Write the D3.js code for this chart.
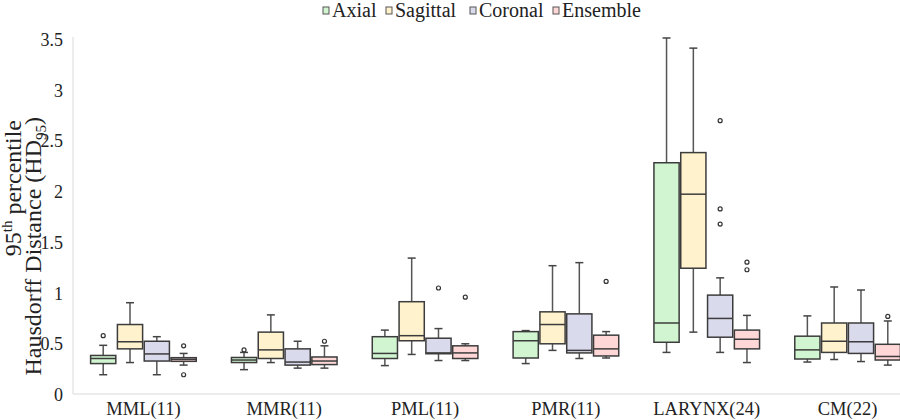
<!DOCTYPE html>
<html>
<head>
<meta charset="utf-8">
<script src="https://cdn.jsdelivr.net/npm/d3@7"></script>
</head>
<body style="margin:0">
<svg id="chart" width="900" height="420" font-family="Liberation Serif"></svg>
<script>
// ---- Data (min, q1, median, q3, max) per category ----
const categories = ["MML(11)", "MMR(11)", "PML(11)", "PMR(11)", "LARYNX(24)", "CM(22)"];
const seriesNames = ["Axial", "Sagittal", "Coronal", "Ensemble"];
const seriesColors = ["#d0f5d0", "#fff2cc", "#d9dbec", "#ffd7d7"];

const axialStats = [
  [0.19, 0.30, 0.35, 0.38, 0.48],
  [0.24, 0.31, 0.335, 0.36, 0.41],
  [0.28, 0.35, 0.40, 0.565, 0.63],
  [0.30, 0.355, 0.525, 0.615, 0.625],
  [0.41, 0.51, 0.70, 2.28, 3.51],
  [0.315, 0.345, 0.435, 0.57, 0.77]
];
const sagittalStats = [
  [0.31, 0.445, 0.515, 0.685, 0.90],
  [0.31, 0.35, 0.435, 0.61, 0.78],
  [0.39, 0.525, 0.575, 0.91, 1.34],
  [0.43, 0.495, 0.685, 0.81, 1.265],
  [0.61, 1.24, 1.97, 2.38, 3.41],
  [0.34, 0.41, 0.52, 0.70, 1.055]
];
const coronalStats = [
  [0.19, 0.325, 0.395, 0.52, 0.565],
  [0.255, 0.285, 0.315, 0.445, 0.52],
  [0.33, 0.397, 0.405, 0.55, 0.645],
  [0.35, 0.405, 0.43, 0.79, 1.295],
  [0.41, 0.56, 0.745, 0.975, 1.145],
  [0.32, 0.40, 0.515, 0.70, 1.025]
];
const ensembleStats = [
  [0.285, 0.322, 0.342, 0.358, 0.40],
  [0.255, 0.29, 0.325, 0.365, 0.475],
  [0.33, 0.35, 0.405, 0.475, 0.495],
  [0.355, 0.375, 0.445, 0.58, 0.615],
  [0.31, 0.445, 0.54, 0.63, 0.775],
  [0.285, 0.335, 0.37, 0.49, 0.72]
];
// outliers: [categoryIndex, value]
const axialOutliers = [[0, 0.575], [1, 0.435]];
const sagittalOutliers = [];
const coronalOutliers = [[2, 1.045], [4, 2.695], [4, 1.825], [4, 1.675]];
const ensembleOutliers = [[0, 0.475], [0, 0.19], [1, 0.52], [2, 0.955], [3, 1.11], [4, 1.30], [4, 1.225], [5, 0.765]];

const yTicks = [0, 0.5, 1, 1.5, 2, 2.5, 3, 3.5];
const yTickLabels = ["0", "0.5", "1", "1.5", "2", "2.5", "3", "3.5"];

const allStats = [axialStats, sagittalStats, coronalStats, ensembleStats];
const allOutliers = [axialOutliers, sagittalOutliers, coronalOutliers, ensembleOutliers];

const FONT = "Liberation Serif";

// ---- Scales ----
const svg = d3.select("#chart");
const plotLeft = 73, plotRight = 918, plotTop = 39, plotBottom = 394;

const x0 = d3.scaleBand().domain(categories).range([plotLeft, plotRight])
  .paddingInner(0.25).paddingOuter(0.125);
const x1 = d3.scaleBand().domain(seriesNames).range([0, x0.bandwidth()])
  .paddingInner(0.06).paddingOuter(0);
const y = d3.scaleLinear().domain([0, 3.5]).range([plotBottom, plotTop]);

// ---- Axes lines ----
svg.append("line").attr("x1", plotLeft).attr("x2", plotLeft)
  .attr("y1", y(3.5) - 2).attr("y2", plotBottom)
  .attr("stroke", "#d9d9d9").attr("stroke-width", 1);
svg.append("line").attr("x1", plotLeft).attr("x2", 900)
  .attr("y1", plotBottom).attr("y2", plotBottom)
  .attr("stroke", "#d9d9d9").attr("stroke-width", 1.2);

// y tick labels
const yAxis = d3.axisLeft(y).tickValues(yTicks)
  .tickFormat((d, i) => yTickLabels[i]).tickSize(0).tickPadding(10);
const yg = svg.append("g").attr("transform", `translate(${plotLeft},0)`).call(yAxis);
yg.select(".domain").remove();
yg.attr("font-family", FONT).attr("font-size", 18);
yg.selectAll("text").attr("font-family", FONT).style("font-family", FONT)
  .attr("fill", "#222").attr("dy", "0.36em");

// x labels
const xAxis = d3.axisBottom(x0).tickSize(0).tickPadding(8);
const xg = svg.append("g").attr("transform", `translate(0,${plotBottom})`).call(xAxis);
xg.select(".domain").remove();
xg.attr("font-family", FONT).attr("font-size", 18.5);
xg.selectAll("text").attr("font-family", FONT).style("font-family", FONT).attr("fill", "#222");

// ---- Boxes ----
const capW = 8;
seriesNames.forEach((s, si) => {
  const g = svg.append("g");
  const stats = allStats[si];
  categories.forEach((c, ci) => {
    const [mn, q1, md, q3, mx] = stats[ci];
    const bx = x0(c) + x1(s);
    const bw = x1.bandwidth();
    const cx = bx + bw / 2;
    g.append("line").attr("x1", cx).attr("x2", cx).attr("y1", y(mx)).attr("y2", y(q3))
      .attr("stroke", "#555").attr("stroke-width", 1.5);
    g.append("line").attr("x1", cx).attr("x2", cx).attr("y1", y(q1)).attr("y2", y(mn))
      .attr("stroke", "#555").attr("stroke-width", 1.5);
    g.append("line").attr("x1", cx - capW / 2).attr("x2", cx + capW / 2).attr("y1", y(mx)).attr("y2", y(mx))
      .attr("stroke", "#444").attr("stroke-width", 1.5);
    g.append("line").attr("x1", cx - capW / 2).attr("x2", cx + capW / 2).attr("y1", y(mn)).attr("y2", y(mn))
      .attr("stroke", "#444").attr("stroke-width", 1.5);
    g.append("rect").attr("x", bx).attr("y", y(q3)).attr("width", bw)
      .attr("height", Math.max(0.5, y(q1) - y(q3)))
      .attr("fill", seriesColors[si]).attr("stroke", "#3c3c3c").attr("stroke-width", 1.5);
    g.append("line").attr("x1", bx).attr("x2", bx + bw).attr("y1", y(md)).attr("y2", y(md))
      .attr("stroke", "#3c3c3c").attr("stroke-width", 1.5);
  });
  allOutliers[si].forEach(([ci, v]) => {
    const cx = x0(categories[ci]) + x1(s) + x1.bandwidth() / 2;
    g.append("circle").attr("cx", cx).attr("cy", y(v)).attr("r", 2)
      .attr("fill", "#fff").attr("stroke", "#333").attr("stroke-width", 1.2);
  });
});

// ---- Y axis title (two lines, rotated) ----
const t1 = svg.append("text")
  .attr("transform", "translate(21,120) rotate(-90)")
  .attr("text-anchor", "end").attr("font-family", FONT).style("font-family", FONT)
  .attr("font-size", 24).attr("fill", "#222");
t1.append("tspan").text("95");
t1.append("tspan").text("th").attr("font-size", 15).attr("dy", -9);
t1.append("tspan").text(" percentile").attr("dy", 9);

const t2 = svg.append("text")
  .attr("transform", "translate(41,117) rotate(-90)")
  .attr("text-anchor", "end").attr("font-family", FONT).style("font-family", FONT)
  .attr("font-size", 24).attr("fill", "#222");
t2.append("tspan").text("Hausdorff Distance (HD");
t2.append("tspan").text("95").attr("font-size", 15).attr("dy", 5);
t2.append("tspan").text(")").attr("dy", -5);

// ---- Legend ----
const legendX = [323, 386, 470, 553];
const legend = svg.append("g");
seriesNames.forEach((s, i) => {
  legend.append("rect").attr("x", legendX[i]).attr("y", 7).attr("width", 6).attr("height", 7)
    .attr("fill", seriesColors[i]).attr("stroke", "#555").attr("stroke-width", 1);
  legend.append("text").attr("x", legendX[i] + 9).attr("y", 17)
    .attr("font-family", FONT).style("font-family", FONT)
    .attr("font-size", 20).attr("fill", "#222").text(s);
});
</script>
</body>
</html>
